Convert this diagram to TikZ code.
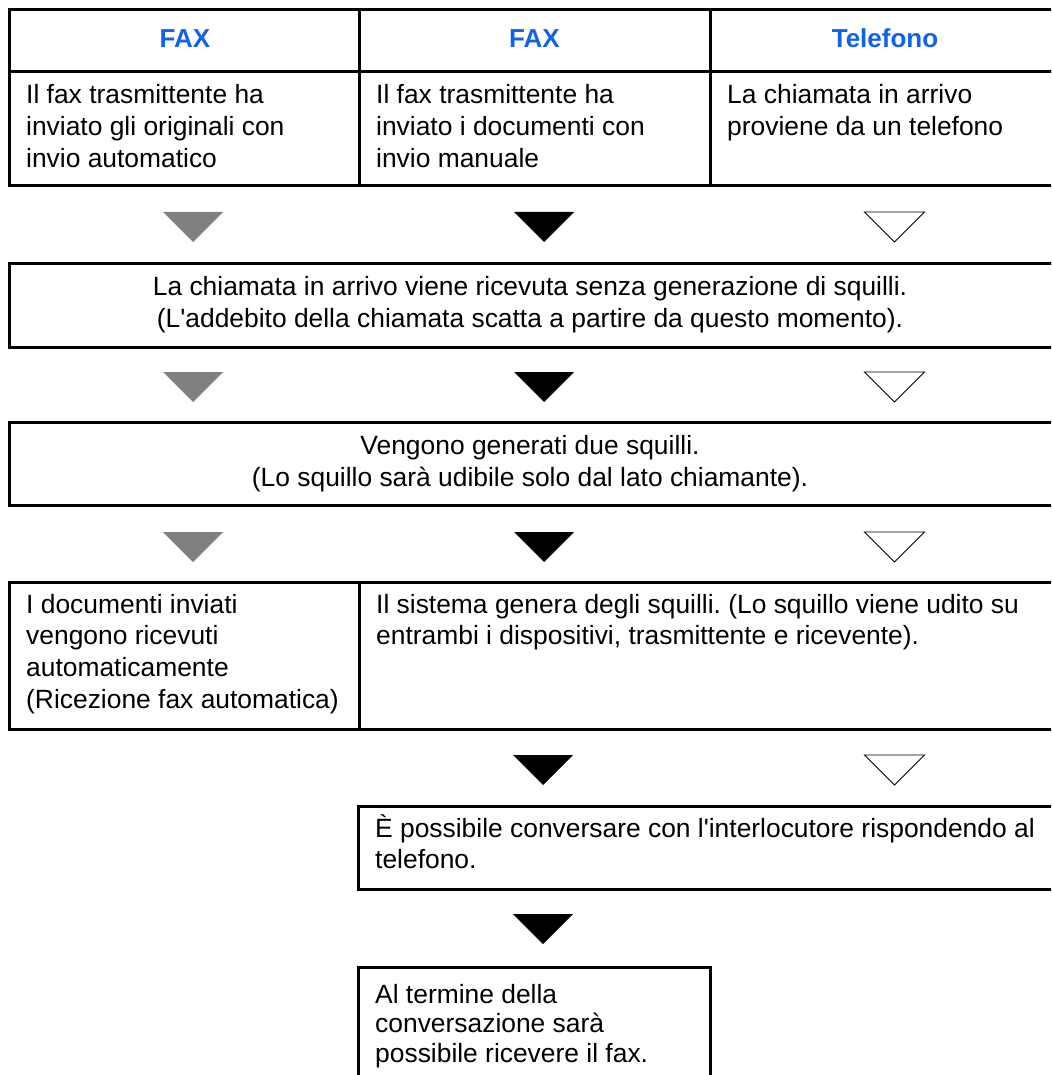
\documentclass[tikz,border=0pt]{standalone}
\usepackage{fontspec}
\setmainfont{Liberation Sans}
\frenchspacing
\definecolor{hdrblue}{RGB}{16,98,235}
\definecolor{arrgray}{RGB}{128,128,128}
\tikzset{
  frame/.style={line width=3pt, line join=miter},
  body/.style={font=\fontsize{26.4}{31.7}\selectfont, inner sep=0pt, align=left, anchor=base west},
  ctrtext/.style={font=\fontsize{26.4}{31.7}\selectfont, inner sep=0pt, align=center, anchor=base},
  hdr/.style={font=\fontsize{26}{30}\selectfont\bfseries, text=hdrblue, inner sep=0pt, anchor=base},
  tri/.pic={\path[pic actions] (-30,0) -- (30,0) -- (0,30) -- cycle;},
  trigray/.style={fill=arrgray},
  triblack/.style={fill=black},
  triopen/.style={draw=black, line width=0.9pt, fill=white, line join=miter}
}
\begin{document}
\begin{tikzpicture}[x=1pt,y=-1pt]
\useasboundingbox (0,0) rectangle (1051,1075);
\clip (0,0) rectangle (1051,1075);
\fill[white] (0,0) rectangle (1051,1075);

% top table
\draw[frame] (1060,10) -- (9.5,10) -- (9.5,186) -- (1060,186);
\draw[frame] (9.5,72) -- (1060,72);
\draw[frame] (359,10) -- (359,186);
\draw[frame] (710,10) -- (710,186);
\node[hdr] (h1) at (185,47.5) {FAX};
\node[hdr] (h2) at (534.5,47.5) {FAX};
\node[hdr] (h3) at (885,47.5) {Telefono};
% base anchor = last line baseline
\node[body] (c1) at (26,167.4) {Il fax trasmittente ha\\inviato gli originali con\\invio automatico};
\node[body] (c2) at (376,167.4) {Il fax trasmittente ha\\inviato i documenti con\\invio manuale};
\node[body] (c3) at (727,135.7) {La chiamata in arrivo\\proviene da un telefono};

% row 1 triangles
\pic[trigray] at (193,212) {tri};
\pic[triblack] at (544,212) {tri};
\pic[triopen] at (894.5,212) {tri};

% box 2
\draw[frame] (1060,263) -- (9.5,263) -- (9.5,347) -- (1060,347);
\node[ctrtext] (b2) at (530,327.2) {La chiamata in arrivo viene ricevuta senza generazione di squilli.\\(L\textquotesingle addebito della chiamata scatta a partire da questo momento).};

% row 2 triangles
\pic[trigray] at (193,372) {tri};
\pic[triblack] at (544,372) {tri};
\pic[triopen] at (894.5,372) {tri};

% box 3
\draw[frame] (1060,422) -- (9.5,422) -- (9.5,505) -- (1060,505);
\node[ctrtext] (b3) at (530,486.2) {Vengono generati due squilli.\\(Lo squillo sarà udibile solo dal lato chiamante).};

% row 3 triangles
\pic[trigray] at (193,532) {tri};
\pic[triblack] at (544,532) {tri};
\pic[triopen] at (894.5,532) {tri};

% box 4
\draw[frame] (1060,582) -- (9.5,582) -- (9.5,729) -- (1060,729);
\draw[frame] (359,582) -- (359,729);
\node[body] (b4l) at (26,708.1) {I documenti inviati\\vengono ricevuti\\automaticamente\\(Ricezione fax automatica)};
\node[body] (b4r) at (376,644.7) {Il sistema genera degli squilli. (Lo squillo viene udito su\\entrambi i dispositivi, trasmittente e ricevente).};

% row 4 triangles
\pic[triblack] at (543,755) {tri};
\pic[triopen] at (894.5,755) {tri};

% box 5
\draw[frame] (1060,806) -- (358,806) -- (358,889) -- (1060,889);
\node[body] (b5) at (375,868.7) {È possibile conversare con l\textquotesingle interlocutore rispondendo al\\telefono.};

% row 5 triangle
\pic[triblack] at (543,914) {tri};

% box 6
\draw[frame] (358,1085) -- (358,967) -- (710,967) -- (710,1085);
\node[body, font=\fontsize{26.4}{29.5}\selectfont] (b6) at (375,1062) {Al termine della\\conversazione sarà\\possibile ricevere il fax.};
\end{tikzpicture}
\end{document}
